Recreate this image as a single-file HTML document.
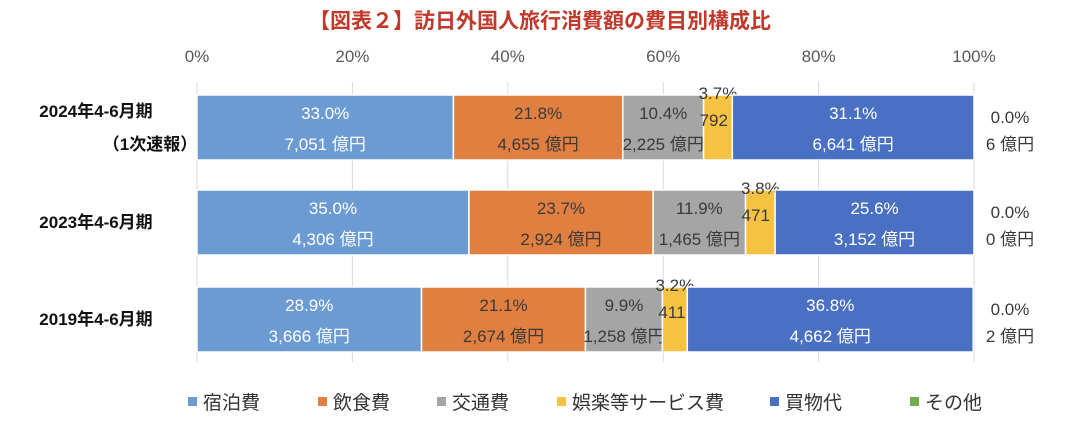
<!DOCTYPE html>
<html><head><meta charset="utf-8">
<style>
body{margin:0;background:#fff;}
svg{display:block;font-family:"Liberation Sans","Noto Sans CJK JP",sans-serif;}
</style></head>
<body>
<svg id="chart" width="1080" height="422" viewBox="0 0 1080 422">
<text x="540" y="28" text-anchor="middle" font-size="21" font-weight="bold" fill="#C0392B">【図表２】訪日外国人旅行消費額の費目別構成比</text>
<g id="grid"></g>
<g id="ticks"></g>
<g id="bars"></g>
<g id="rowlabels"></g>
<g id="legend"></g>
</svg>
<script>
const categories = ["宿泊費","飲食費","交通費","娯楽等サービス費","買物代","その他"];
const rowLabels = [["2024年4-6月期","（1次速報）"],["2023年4-6月期"],["2019年4-6月期"]];
const pct2024 = [33.0,21.8,10.4,3.7,31.1,0.0];
const amt2024 = [7051,4655,2225,792,6641,6];
const pct2023 = [35.0,23.7,11.9,3.8,25.6,0.0];
const amt2023 = [4306,2924,1465,471,3152,0];
const pct2019 = [28.9,21.1,9.9,3.2,36.8,0.0];
const amt2019 = [3666,2674,1258,411,4662,2];
const tickValues = [0,20,40,60,80,100];
const tickLabels = ["0%","20%","40%","60%","80%","100%"];

const pcts=[pct2024,pct2023,pct2019], amts=[amt2024,amt2023,amt2019];
const colors=["#6B9BD2","#E07F3F","#A5A5A5","#F5C242","#4A70C4","#70AD47"];
const txtCol=["#fff","#3a3a3a","#3a3a3a","#3a3a3a","#fff","#3a3a3a"];
const X0=197,X1=974;
const x=v=>X0+(X1-X0)*v/100;
const rowTop=[95,190,287], barH=65;
const NS="http://www.w3.org/2000/svg";
function mk(tag,attrs,parent,text){const e=document.createElementNS(NS,tag);for(const k in attrs)e.setAttribute(k,attrs[k]);if(text!==undefined)e.textContent=text;parent.appendChild(e);return e;}
const fmt=n=>n.toLocaleString("en-US");
const grid=document.getElementById("grid"),ticks=document.getElementById("ticks"),bars=document.getElementById("bars"),rl=document.getElementById("rowlabels"),lg=document.getElementById("legend");
tickValues.forEach((t,i)=>{
 const l=mk("line",{x1:x(t),x2:x(t),y1:82,y2:362,stroke:"#d9d9d9","stroke-width":1},grid);
 
 
 const tx=mk("text",{x:x(t),y:62,"text-anchor":"middle","font-size":17,fill:"#595959"},ticks,tickLabels[i]);
 
 
});
pcts.forEach((row,r)=>{
 let cum=0;const y=rowTop[r];
 row.forEach((p,i)=>{
  const xa=x(cum),xb=x(cum+p);cum+=p;
  if(i<5){
   const rc=mk("rect",{x:xa,y:y,width:Math.max(0,xb-xa),height:barH,fill:colors[i],stroke:"#fff","stroke-width":1.5},bars);
   
   
  }
  let cx=(xa+xb)/2, py=y+24, vy=y+55, va="middle", vx=cx;
  if(i===3){py=y+4; vy=y+31; vx=xa-4; va="start";}
  if(i===5){cx=1010; vx=1010; py=y+28; vy=y+55;}
  const t1=mk("text",{x:cx,y:py,"text-anchor":"middle","font-size":17,fill:i===3?"#3a3a3a":txtCol[i]},bars,p.toFixed(1)+"%");
  
  
  const t2=mk("text",{x:vx,y:vy,"text-anchor":va,"font-size":17,fill:i===3?"#3a3a3a":txtCol[i]},bars,fmt(amts[r][i])+" 億円");
  
  
 });
 const lines=rowLabels[r];
 lines.forEach((s,k)=>{
  const yy=lines.length>1?y+22+k*33:y+38;
  const t=mk("text",{x:k===1?150:96,y:yy,"text-anchor":"middle","font-size":17,"font-weight":"bold",fill:"#111"},rl,s);
  
  
 });
});
const legX=[188,318,437,557,770,910];
categories.forEach((c,i)=>{
 const g=mk("g",{},lg);
 
 
 mk("rect",{x:legX[i],y:397,width:9,height:9,fill:colors[i]},g);
 mk("text",{x:legX[i]+15,y:409,"font-size":19,fill:"#333"},g,c);
});
</script>
</body></html>
